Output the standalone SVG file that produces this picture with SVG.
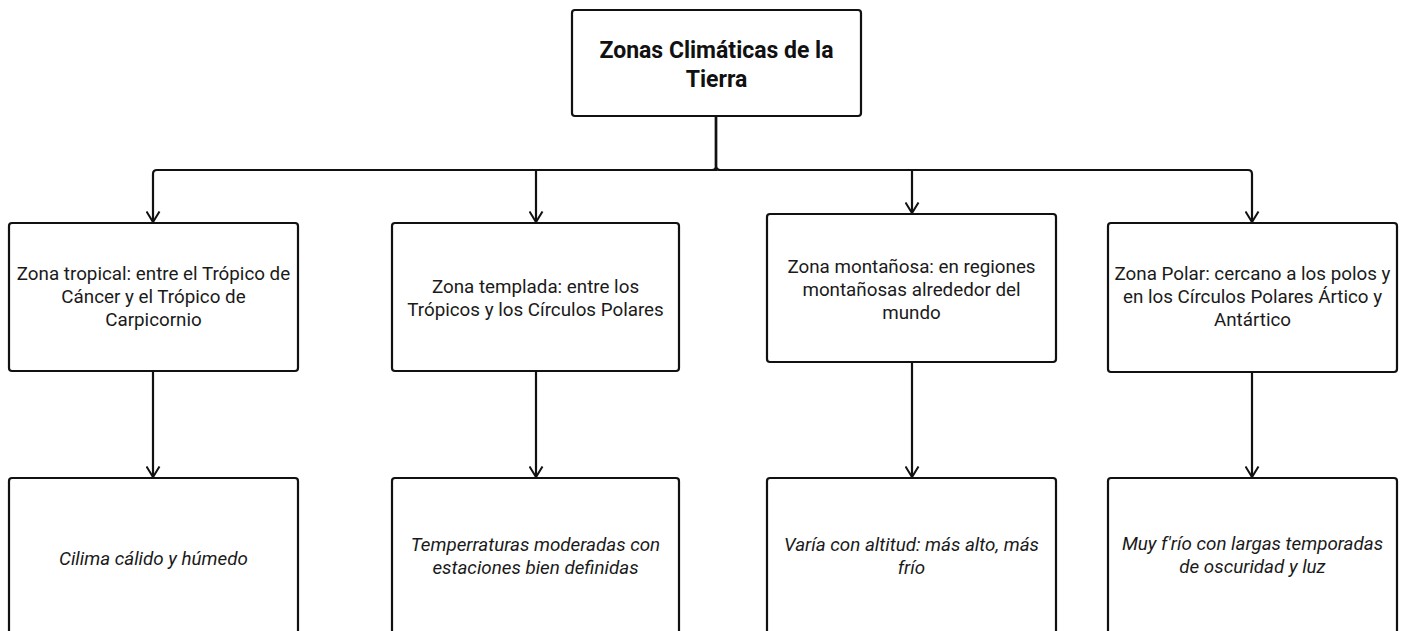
<svg xmlns="http://www.w3.org/2000/svg" width="1401" height="631" viewBox="0 0 1401 631">
<style>
.box{fill:#fff;stroke:#111;stroke-width:2.2}
.t{font-family:Roboto,"Liberation Sans",sans-serif;font-size:18.8px;fill:#1a1a1a;text-anchor:middle}
.i{font-style:italic}
.title{font-family:Roboto,"Liberation Sans",sans-serif;font-size:23px;font-weight:bold;fill:#111;text-anchor:middle}
.c{fill:none;stroke:#111;stroke-width:2.2;marker-end:url(#arr)}
</style>
<defs>
<marker id="arr" markerUnits="userSpaceOnUse" viewBox="-1 -1 13 15" refX="10.5" refY="6.5" markerWidth="13" markerHeight="15" orient="auto">
<path d="M0,0 L10.5,6.5 L0,13" fill="none" stroke="#111" stroke-width="2"/>
</marker>
</defs>
<rect width="1401" height="631" fill="#fff"/>
<g id="connectors">
<path class="c" d="M716,116 V166 Q716,170 712,170 H157 Q153,170 153,174 V222"/>
<path class="c" d="M716,116 V170 H536 V222"/>
<path class="c" d="M716,116 V166 Q716,170 720,170 H912 V213"/>
<path class="c" d="M716,116 V166 Q716,170 720,170 H1248 Q1252,170 1252,174 V222"/>
<path class="c" d="M153,371 V477"/>
<path class="c" d="M536,371 V477"/>
<path class="c" d="M912,362 V477"/>
<path class="c" d="M1252,372 V477"/>
</g>
<g id="root">
<rect class="box" x="572" y="10" width="289" height="106" rx="3"/>
<text class="title" x="716.5" y="58">Zonas Climáticas de la</text>
<text class="title" x="716.5" y="87">Tierra</text>
</g>
<g id="tropical">
<rect class="box" x="9" y="223" width="289" height="148" rx="3"/>
<text class="t" x="153.5" y="280">Zona tropical: entre el Trópico de</text>
<text class="t" x="153.5" y="303">Cáncer y el Trópico de</text>
<text class="t" x="153.5" y="326">Carpicornio</text>
</g>
<g id="templada">
<rect class="box" x="392" y="223" width="287" height="148" rx="3"/>
<text class="t" x="535.5" y="293">Zona templada: entre los</text>
<text class="t" x="535.5" y="316">Trópicos y los Círculos Polares</text>
</g>
<g id="montanosa">
<rect class="box" x="767" y="214" width="289" height="148" rx="3"/>
<text class="t" x="911.5" y="273">Zona montañosa: en regiones</text>
<text class="t" x="911.5" y="296">montañosas alrededor del</text>
<text class="t" x="911.5" y="319">mundo</text>
</g>
<g id="polar">
<rect class="box" x="1108" y="223" width="289" height="149" rx="3"/>
<text class="t" x="1252.5" y="280">Zona Polar: cercano a los polos y</text>
<text class="t" x="1252.5" y="303">en los Círculos Polares Ártico y</text>
<text class="t" x="1252.5" y="326">Antártico</text>
</g>
<g id="tropical-clima">
<rect class="box" x="9" y="478" width="289" height="160" rx="3"/>
<text class="t i" x="153.5" y="565">Cilima cálido y húmedo</text>
</g>
<g id="templada-clima">
<rect class="box" x="392" y="478" width="287" height="160" rx="3"/>
<text class="t i" x="535.5" y="551">Temperraturas moderadas con</text>
<text class="t i" x="535.5" y="574">estaciones bien definidas</text>
</g>
<g id="montanosa-clima">
<rect class="box" x="767" y="478" width="289" height="160" rx="3"/>
<text class="t i" x="911.5" y="551">Varía con altitud: más alto, más</text>
<text class="t i" x="911.5" y="574">frío</text>
</g>
<g id="polar-clima">
<rect class="box" x="1108" y="478" width="289" height="160" rx="3"/>
<text class="t i" x="1252.5" y="550">Muy f'río con largas temporadas</text>
<text class="t i" x="1252.5" y="573">de oscuridad y luz</text>
</g>
</svg>
